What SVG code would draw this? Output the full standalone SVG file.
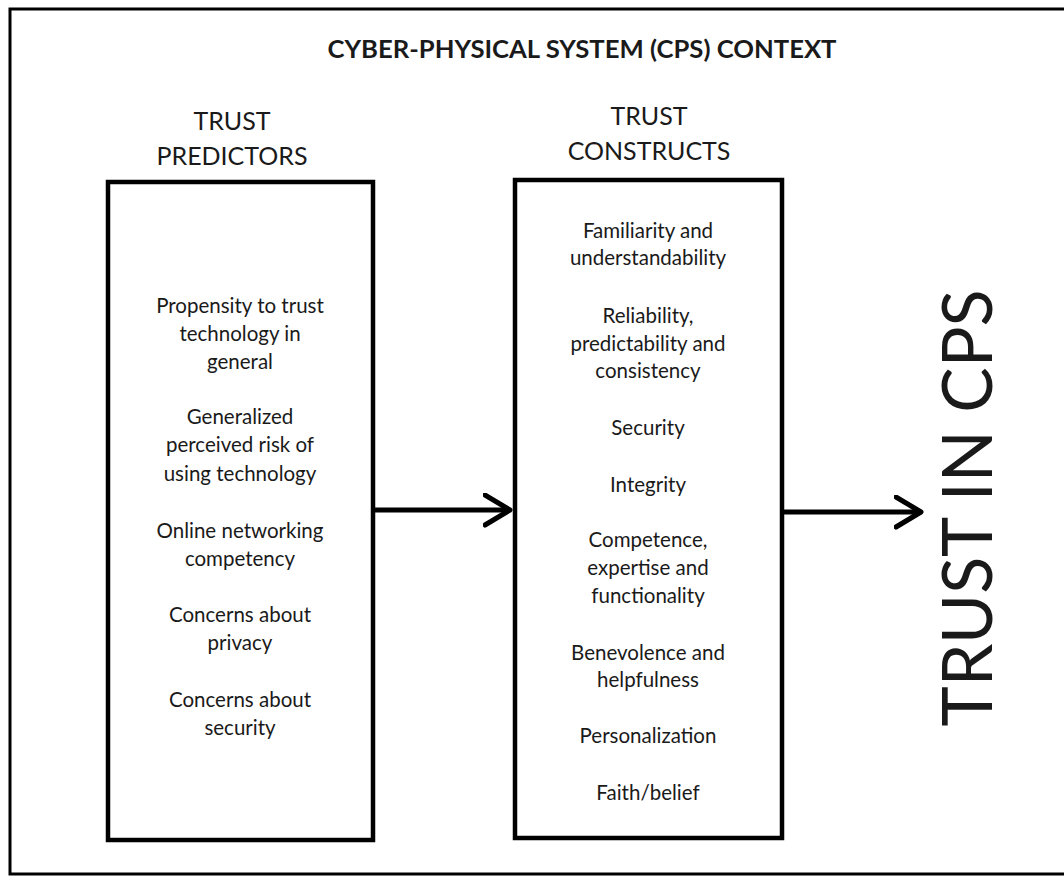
<svg xmlns="http://www.w3.org/2000/svg" width="1064" height="876" viewBox="0 0 1064 876">
<style>
  text { font-family: Lato, "Liberation Sans", sans-serif; fill: #1a1a1a; text-anchor: middle; }
  .item { font-size: 20.5px; }
  .head { font-size: 25px; }
  .title { font-size: 24px; font-weight: bold; }
  .box { fill: #fff; stroke: #000; stroke-width: 4.5; }
  .conn { fill: none; stroke: #000; stroke-width: 5; }
</style>
<defs>
  <marker id="chev" viewBox="0 0 12 14" refX="11" refY="7" markerWidth="6" markerHeight="7" markerUnits="strokeWidth" orient="auto">
    <path d="M1,1 L11,7 L1,13" fill="none" stroke="#000" stroke-width="2" stroke-linecap="round" stroke-linejoin="round"/>
  </marker>
</defs>
<rect width="1064" height="876" fill="#fff"/>
<g id="frame">
  <path d="M1064,9 H10 V874 H1064" fill="none" stroke="#000" stroke-width="3"/>
  <text class="title" x="582" y="58" textLength="509" lengthAdjust="spacingAndGlyphs">CYBER-PHYSICAL SYSTEM (CPS) CONTEXT</text>
</g>
<g id="predictors">
  <text class="head" x="232" y="130">TRUST</text>
  <text class="head" x="232" y="165">PREDICTORS</text>
  <rect class="box" x="108" y="182" width="265" height="658"/>
  <text class="item" x="240" y="313">Propensity to trust</text>
  <text class="item" x="240" y="341">technology in</text>
  <text class="item" x="240" y="369">general</text>
  <text class="item" x="240" y="424">Generalized</text>
  <text class="item" x="240" y="452">perceived risk of</text>
  <text class="item" x="240" y="481">using technology</text>
  <text class="item" x="240" y="538">Online networking</text>
  <text class="item" x="240" y="566">competency</text>
  <text class="item" x="240" y="622">Concerns about</text>
  <text class="item" x="240" y="650">privacy</text>
  <text class="item" x="240" y="707">Concerns about</text>
  <text class="item" x="240" y="735">security</text>
</g>
<g id="constructs">
  <text class="head" x="649" y="125">TRUST</text>
  <text class="head" x="649" y="160">CONSTRUCTS</text>
  <rect class="box" x="515" y="180" width="267" height="658"/>
  <text class="item" x="648" y="238">Familiarity and</text>
  <text class="item" x="648" y="265">understandability</text>
  <text class="item" x="648" y="323">Reliability,</text>
  <text class="item" x="648" y="351">predictability and</text>
  <text class="item" x="648" y="378">consistency</text>
  <text class="item" x="648" y="435">Security</text>
  <text class="item" x="648" y="492">Integrity</text>
  <text class="item" x="648" y="547">Competence,</text>
  <text class="item" x="648" y="575">expertise and</text>
  <text class="item" x="648" y="603">functionality</text>
  <text class="item" x="648" y="660">Benevolence and</text>
  <text class="item" x="648" y="687">helpfulness</text>
  <text class="item" x="648" y="743">Personalization</text>
  <text class="item" x="648" y="800">Faith/belief</text>
</g>
<g id="trust-in-cps">
  <text x="0" y="0" font-size="70" textLength="437" lengthAdjust="spacingAndGlyphs" transform="translate(992,508) rotate(-90)">TRUST IN CPS</text>
</g>
<g id="connectors">
  <path class="conn" d="M373,510 H510" marker-end="url(#chev)"/>
  <path class="conn" d="M782,512 H921" marker-end="url(#chev)"/>
</g>
</svg>
